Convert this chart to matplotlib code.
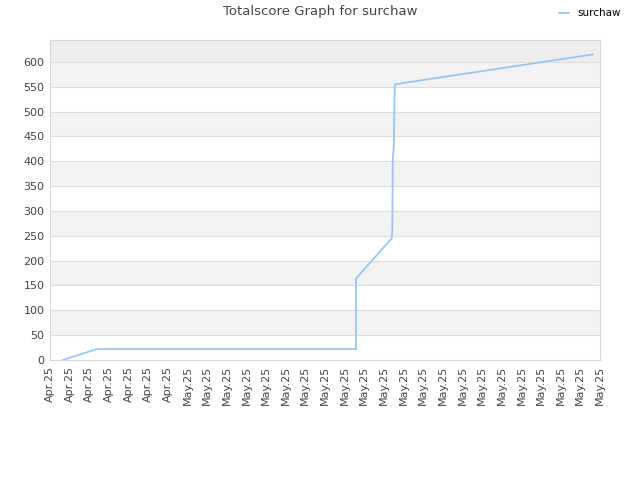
import matplotlib
matplotlib.use('Agg')
import matplotlib.pyplot as plt

# Data (x in tick-slot units)
tick_labels = ['Apr.25'] * 7 + ['May.25'] * 22
score_x = [0.66, 2.39, 15.58, 15.58, 17.40, 17.43, 17.45, 17.50, 17.55, 17.59, 27.64]
score_y = [0, 22, 22, 164, 245, 265, 402, 427, 553, 555, 615]
player = 'surchaw'

LINE_COLOR = '#99c7f3'
TEXT_COLOR = '#444444'
GRID_COLOR = '#dedede'
Y_MAX = 644

fig = plt.figure(figsize=(6.4, 4.8), dpi=100)
ax = fig.add_axes([0.078, 0.25, 0.8595, 0.6667])

# alternating horizontal bands
for lo in range(0, 650, 50):
    hi = min(lo + 50, Y_MAX)
    if lo >= 600:
        color = '#ededed'
    elif (lo // 50) % 2 == 1:
        color = '#f3f3f3'
    else:
        color = 'white'
    ax.axhspan(lo, hi, color=color, zorder=0, lw=0)
for yv in range(50, 650, 50):
    ax.axhline(yv, color=GRID_COLOR, lw=0.8, zorder=1)

ax.plot(score_x, score_y, color=LINE_COLOR, lw=1.3, zorder=3, label=player)

ax.set_xlim(0, len(tick_labels) - 1)
ax.set_ylim(0, Y_MAX)
ax.set_xticks(range(len(tick_labels)))
ax.set_xticklabels(tick_labels, rotation=90)
ax.set_yticks(range(0, 650, 50))
ax.tick_params(axis='both', length=0, labelsize=8, colors=TEXT_COLOR, pad=4)
for s in ax.spines.values():
    s.set_color('#d8d8d8')
    s.set_linewidth(0.8)

fig.suptitle('Totalscore Graph for surchaw', x=0.5, y=0.99, fontsize=9.5, color=TEXT_COLOR)
fig.legend(loc='upper right', bbox_to_anchor=(0.985, 1.002), frameon=False,
           fontsize=7.5, handlelength=1.0, handletextpad=0.8)

fig.savefig('out.png', dpi=100)
